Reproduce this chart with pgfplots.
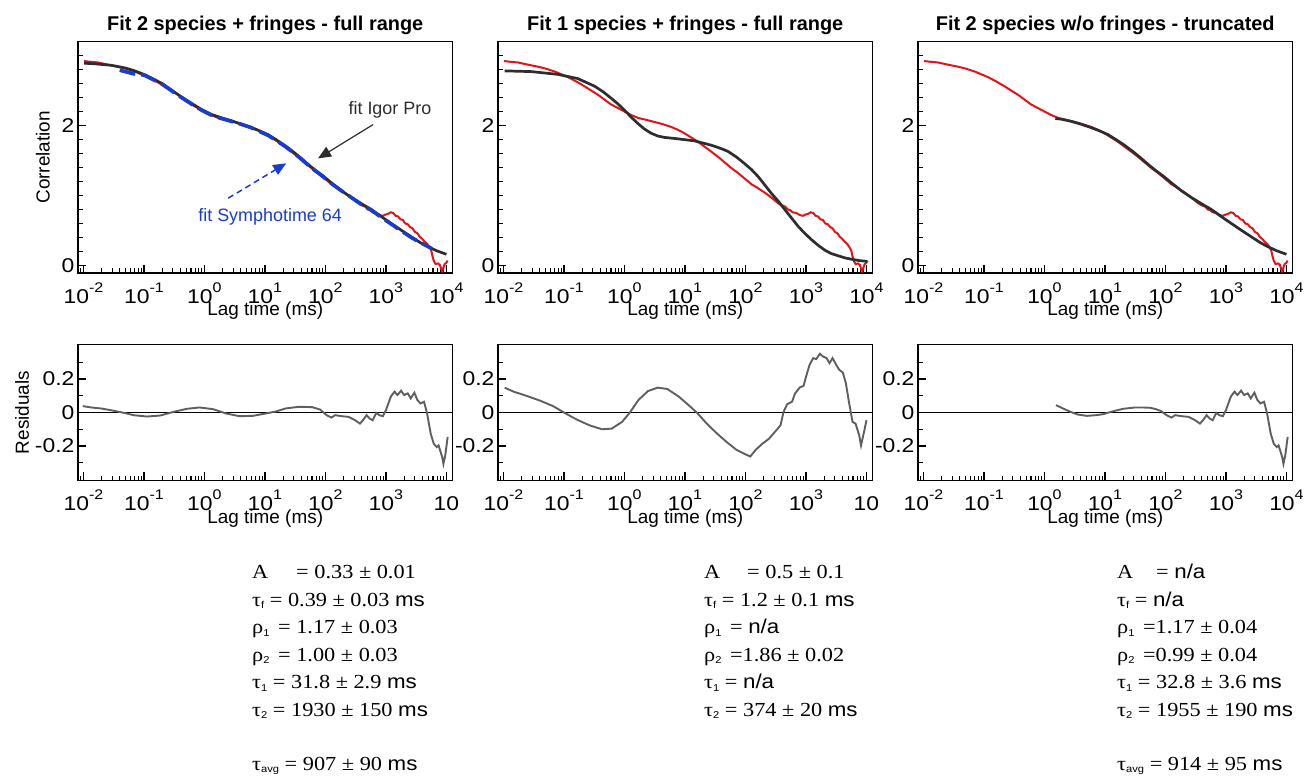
\documentclass[border=0pt]{standalone}
\usepackage{pgfplots}
\pgfplotsset{compat=1.18}
\usepackage{pgfplotstable}
\usepackage{fontspec}
\setmainfont{Liberation Sans}
\newfontfamily\tms[FakeStretch=1.12]{Liberation Serif}
\newfontfamily\hlv[FakeStretch=1.12]{Liberation Sans}
\newfontfamily\tickfont[FakeStretch=1.15]{Liberation Sans}
\usetikzlibrary{arrows.meta}

\definecolor{datared}{RGB}{225,20,25}
\definecolor{fitgray}{RGB}{45,45,45}
\definecolor{symblue}{RGB}{25,60,205}
\definecolor{resgray}{RGB}{95,95,95}

\newcommand{\tl}[1]{10\raisebox{11bp}{\fontsize{14}{14}\selectfont #1}}
\newcommand{\sub}[1]{\raisebox{-2.5bp}{\hlv\fontsize{10}{10}\selectfont #1}}
\newcommand{\blk}{\tms\fontsize{20}{20}\selectfont}
\newcommand{\ms}{{\hlv ms}}
\newcommand{\na}{{\hlv n/a}}

% log10(lag time / ms) versus correlation
\pgfplotstableread{
lx y
-1.99 2.92
-1.88 2.91
-1.76 2.90
-1.60 2.87
-1.43 2.84
-1.29 2.81
-1.15 2.77
-1.04 2.73
-0.93 2.69
-0.80 2.63
-0.66 2.56
-0.55 2.50
-0.44 2.44
-0.33 2.37
-0.22 2.30
-0.11 2.25
0.00 2.20
0.11 2.15
0.22 2.11
0.36 2.08
0.50 2.05
0.63 2.02
0.77 1.98
0.88 1.94
0.99 1.89
1.10 1.83
1.21 1.77
1.32 1.70
1.43 1.63
1.55 1.55
1.66 1.47
1.77 1.39
1.88 1.32
1.99 1.24
2.10 1.16
2.18 1.12
2.25 1.08
2.32 1.04
2.40 0.99
2.47 0.94
2.54 0.89
2.60 0.86
2.66 0.84
2.70 0.80
2.74 0.79
2.78 0.76
2.84 0.75
2.90 0.72
2.95 0.71
3.00 0.73
3.04 0.74
3.08 0.76
3.12 0.75
3.16 0.71
3.20 0.70
3.24 0.66
3.28 0.65
3.32 0.60
3.36 0.59
3.40 0.55
3.44 0.53
3.48 0.48
3.52 0.46
3.56 0.41
3.60 0.38
3.64 0.34
3.68 0.31
3.72 0.26
3.75 0.21
3.77 0.13
3.79 0.07
3.82 0.02
3.86 0.03
3.89 0.01
3.91 -0.04
3.93 -0.08
3.95 -0.03
3.97 0.02
4.00 0.04
4.02 0.07
}\reddata

\pgfplotstableread{
lx y
-1.99 2.89
-1.80 2.88
-1.54 2.86
-1.30 2.82
-1.15 2.78
-1.00 2.73
-0.88 2.68
-0.70 2.60
-0.55 2.51
-0.40 2.42
-0.22 2.32
-0.05 2.23
0.11 2.16
0.28 2.11
0.44 2.07
0.60 2.02
0.77 1.97
0.92 1.92
1.05 1.87
1.18 1.80
1.32 1.72
1.46 1.63
1.60 1.53
1.72 1.44
1.82 1.37
1.96 1.28
2.10 1.18
2.26 1.07
2.43 0.97
2.60 0.88
2.76 0.80
2.92 0.70
3.09 0.60
3.26 0.50
3.42 0.41
3.56 0.33
3.69 0.27
3.84 0.21
4.00 0.16
}\fitA

\pgfplotstableread{
lx y
-1.40 2.79
-1.18 2.74
-1.00 2.72
-0.88 2.67
-0.70 2.59
-0.55 2.50
-0.40 2.41
-0.22 2.31
-0.05 2.22
0.11 2.15
0.28 2.10
0.44 2.06
0.60 2.02
0.77 1.97
0.92 1.91
1.05 1.86
1.18 1.79
1.32 1.71
1.46 1.62
1.60 1.52
1.72 1.43
1.82 1.36
1.96 1.27
2.10 1.17
2.26 1.07
2.43 0.97
2.60 0.87
2.76 0.79
2.92 0.69
3.09 0.59
3.26 0.49
3.42 0.40
3.56 0.33
3.70 0.27
3.76 0.24
}\symfit

\pgfplotstableread{
lx y
-1.98 2.78
-1.54 2.77
-1.10 2.73
-0.77 2.67
-0.49 2.56
-0.35 2.48
-0.22 2.39
-0.11 2.31
0.00 2.22
0.11 2.12
0.22 2.03
0.33 1.95
0.44 1.89
0.55 1.85
0.66 1.83
0.88 1.81
1.16 1.78
1.43 1.72
1.60 1.67
1.71 1.63
1.85 1.55
1.98 1.46
2.10 1.37
2.21 1.27
2.32 1.15
2.43 1.03
2.54 0.92
2.65 0.80
2.76 0.68
2.87 0.56
2.98 0.46
3.09 0.37
3.20 0.29
3.31 0.22
3.42 0.17
3.53 0.14
3.64 0.11
3.75 0.09
3.88 0.07
4.01 0.06
}\fitB

\pgfplotstableread{
lx y
0.18 2.10
0.28 2.09
0.44 2.06
0.60 2.02
0.77 1.97
0.92 1.92
1.05 1.87
1.18 1.80
1.32 1.72
1.46 1.63
1.60 1.53
1.72 1.44
1.82 1.37
1.96 1.28
2.10 1.18
2.26 1.07
2.43 0.97
2.60 0.88
2.76 0.80
2.92 0.70
3.09 0.60
3.26 0.50
3.42 0.41
3.56 0.33
3.69 0.27
3.84 0.21
4.00 0.16
}\fitC

\pgfplotstableread{
lx y
-2.01 0.038
-1.87 0.030
-1.71 0.024
-1.55 0.014
-1.33 -0.002
-1.17 -0.016
-0.95 -0.024
-0.73 -0.018
-0.51 0.004
-0.29 0.022
-0.08 0.030
0.14 0.020
0.36 -0.006
0.58 -0.022
0.80 -0.020
1.01 -0.006
1.18 0.006
1.34 0.024
1.56 0.034
1.78 0.032
1.91 0.018
2.02 -0.016
2.10 -0.030
2.16 -0.016
2.27 -0.022
2.38 -0.026
2.49 -0.046
2.57 -0.066
2.62 -0.046
2.68 -0.016
2.73 -0.036
2.78 -0.046
2.84 -0.002
2.89 -0.016
2.95 -0.022
3.00 0.014
3.08 0.094
3.14 0.124
3.19 0.104
3.25 0.130
3.30 0.104
3.36 0.114
3.41 0.084
3.47 0.118
3.52 0.074
3.57 0.054
3.63 0.064
3.68 -0.006
3.74 -0.126
3.79 -0.186
3.84 -0.206
3.87 -0.196
3.93 -0.266
3.95 -0.306
3.98 -0.256
4.02 -0.146
}\resA

\pgfplotstableread{
lx y
-1.98 0.148
-1.83 0.124
-1.61 0.098
-1.39 0.070
-1.18 0.038
-0.99 -0.002
-0.80 -0.040
-0.58 -0.076
-0.37 -0.100
-0.21 -0.096
-0.04 -0.056
0.09 0.000
0.23 0.074
0.39 0.128
0.55 0.148
0.71 0.140
0.90 0.094
1.06 0.044
1.20 -0.002
1.36 -0.066
1.52 -0.122
1.69 -0.176
1.85 -0.222
1.98 -0.246
2.08 -0.262
2.17 -0.222
2.28 -0.186
2.39 -0.156
2.50 -0.110
2.58 -0.076
2.63 0.004
2.69 0.050
2.77 0.064
2.82 0.114
2.90 0.150
2.96 0.158
3.01 0.224
3.06 0.284
3.12 0.324
3.17 0.318
3.23 0.350
3.28 0.334
3.34 0.324
3.39 0.294
3.44 0.324
3.50 0.284
3.55 0.254
3.61 0.238
3.66 0.174
3.71 0.064
3.77 -0.056
3.82 -0.066
3.88 -0.136
3.91 -0.196
3.96 -0.116
4.00 -0.046
}\resB

\pgfplotstableread{
lx y
0.19 0.044
0.30 0.025
0.43 0.004
0.55 -0.012
0.70 -0.020
0.85 -0.016
0.97 -0.010
1.10 0.004
1.30 0.022
1.50 0.030
1.62 0.030
1.75 0.028
1.84 0.020
1.92 0.010
2.02 -0.016
2.10 -0.030
2.16 -0.016
2.27 -0.022
2.38 -0.026
2.49 -0.046
2.57 -0.066
2.62 -0.046
2.68 -0.016
2.73 -0.036
2.78 -0.046
2.84 -0.002
2.89 -0.016
2.95 -0.022
3.00 0.014
3.08 0.094
3.14 0.124
3.19 0.104
3.25 0.130
3.30 0.104
3.36 0.114
3.41 0.084
3.47 0.118
3.52 0.074
3.57 0.054
3.63 0.064
3.68 -0.006
3.74 -0.126
3.79 -0.186
3.84 -0.206
3.87 -0.196
3.93 -0.266
3.95 -0.306
3.98 -0.256
4.02 -0.146
}\resC

\pgfplotsset{
 panel/.style={
  scale only axis, width=374.5bp,
  xmin=-2.09, xmax=4.10,
  axis line style={line width=1.8bp, black},
  tick pos=left, tick align=inside,
  major tick length=8bp, minor tick length=4.5bp,
  every major tick/.append style={line width=1.3bp, black},
  every minor tick/.append style={line width=1.1bp, black},
  xtick={-2,-1,0,1,2,3,4},
  minor xtick={-2.046,
   -1.699,-1.523,-1.398,-1.301,-1.222,-1.155,-1.097,-1.046,
   -0.699,-0.523,-0.398,-0.301,-0.222,-0.155,-0.097,-0.046,
   0.301,0.477,0.602,0.699,0.778,0.845,0.903,0.954,
   1.301,1.477,1.602,1.699,1.778,1.845,1.903,1.954,
   2.301,2.477,2.602,2.699,2.778,2.845,2.903,2.954,
   3.301,3.477,3.602,3.699,3.778,3.845,3.903,3.954},
  tick label style={font=\tickfont\fontsize{20}{20}\selectfont},
  xlabel={Lag time (ms)},
  every axis x label/.style={at={(axis description cs:0.5,0)}, anchor=base, yshift=-43bp, font=\fontsize{19}{19}\selectfont},
  every axis y label/.style={at={(axis description cs:-0.094,0.5)}, rotate=90, anchor=center, font=\fontsize{19}{19}\selectfont},
  every axis title/.style={at={(axis description cs:0.5,1)}, anchor=base, yshift=11bp, font=\bfseries\fontsize{20}{20}\selectfont},
 },
 toppanel/.style={panel, height=231.5bp,
  ymin=-0.107, ymax=3.2, ytick={0,2}, yticklabels={0,2},
  minor ytick={0.2,0.4,0.6,0.8,1.0,1.2,1.4,1.6,1.8,2.2,2.4,2.6,2.8,3.0},
  xticklabels={\tl{-2},\tl{-1},\tl{0},\tl{1},\tl{2},\tl{3},\tl{4}},
  xticklabel style={anchor=base, yshift=-31bp}},
 respanel/.style={panel, height=136bp,
  ymin=-0.405, ymax=0.405, ytick={-0.2,0,0.2}, yticklabels={-0.2,0,0.2},
  minor ytick={-0.3,-0.1,0.1,0.3},
  xticklabel style={anchor=base, yshift=-30bp}},
}

\begin{document}
\begin{tikzpicture}
\path[use as bounding box] (0,0) rectangle (1305bp,778bp);

% ---------- top row ----------
\begin{axis}[toppanel, at={(78bp,505bp)}, anchor=south west,
  title={Fit 2 species + fringes - full range}, ylabel={Correlation}]
\addplot[datared, line width=2bp] table[x=lx,y=y] {\reddata};
\addplot[fitgray, line width=2.7bp] table[x=lx,y=y] {\fitA};
\addplot[symblue, line width=3.6bp, dash pattern=on 16bp off 6bp] table[x=lx,y=y] {\symfit};
\node[text=fitgray, font=\fontsize{18}{18}\selectfont] at (rel axis cs:0.833,0.706) {fit Igor Pro};
\draw[fitgray, line width=1.2bp, -{Triangle[length=13bp,width=11bp]}] (rel axis cs:0.788,0.641) -- (rel axis cs:0.641,0.495);
\node[text=symblue, font=\fontsize{18}{18}\selectfont] at (rel axis cs:0.513,0.244) {fit Symphotime 64};
\draw[symblue, line width=1.5bp, dash pattern=on 6bp off 4bp, -{Triangle[length=13bp,width=11bp]}] (rel axis cs:0.401,0.323) -- (rel axis cs:0.556,0.474);
\end{axis}

\begin{axis}[toppanel, at={(498bp,505bp)}, anchor=south west,
  title={Fit 1 species + fringes - full range}]
\addplot[datared, line width=2bp] table[x=lx,y=y] {\reddata};
\addplot[fitgray, line width=2.7bp] table[x=lx,y=y] {\fitB};
\end{axis}

\begin{axis}[toppanel, at={(918bp,505bp)}, anchor=south west,
  title={Fit 2 species w/o fringes - truncated}]
\addplot[datared, line width=2bp] table[x=lx,y=y] {\reddata};
\addplot[fitgray, line width=2.7bp] table[x=lx,y=y] {\fitC};
\end{axis}

% ---------- residual row ----------
\begin{axis}[respanel, at={(78bp,297.5bp)}, anchor=south west,
  xticklabels={\tl{-2},\tl{-1},\tl{0},\tl{1},\tl{2},\tl{3},10},
  ylabel={Residuals}, ylabel style={at={(axis description cs:-0.149,0.5)}}]
\addplot[black, line width=1.8bp] coordinates {(-2.09,0) (4.10,0)};
\addplot[resgray, line width=1.9bp] table[x=lx,y=y] {\resA};
\end{axis}

\begin{axis}[respanel, at={(498bp,297.5bp)}, anchor=south west,
  xticklabels={\tl{-2},\tl{-1},\tl{0},\tl{1},\tl{2},\tl{3},10}]
\addplot[black, line width=1.8bp] coordinates {(-2.09,0) (4.10,0)};
\addplot[resgray, line width=1.9bp] table[x=lx,y=y] {\resB};
\end{axis}

\begin{axis}[respanel, at={(918bp,297.5bp)}, anchor=south west,
  xticklabels={\tl{-2},\tl{-1},\tl{0},\tl{1},\tl{2},\tl{3},\tl{4}}]
\addplot[black, line width=1.8bp] coordinates {(-2.09,0) (4.10,0)};
\addplot[resgray, line width=1.9bp] table[x=lx,y=y] {\resC};
\end{axis}

% ---------- parameter blocks ----------
\begin{scope}[every node/.style={anchor=base west, inner sep=0pt, font=\blk}]
% block 1
\node at (252bp,199bp) {A};
\node at (296bp,199bp) {= 0.33 ± 0.01};
\node at (252bp,171.5bp) {τ\sub{f} = 0.39 ± 0.03 \ms};
\node at (252bp,144bp) {ρ\sub{1}\hspace{3bp} = 1.17 ± 0.03};
\node at (252bp,116.5bp) {ρ\sub{2}\hspace{3bp} = 1.00 ± 0.03};
\node at (252bp,89bp) {τ\sub{1} = 31.8 ± 2.9 \ms};
\node at (252bp,61.5bp) {τ\sub{2} = 1930 ± 150 \ms};
\node at (252bp,8bp) {τ\sub{avg} = 907 ± 90 \ms};
% block 2
\node at (704bp,199bp) {A};
\node at (747bp,199bp) {= 0.5 ± 0.1};
\node at (704bp,171.5bp) {τ\sub{f} = 1.2 ± 0.1 \ms};
\node at (704bp,144bp) {ρ\sub{1}\hspace{3bp} = \na};
\node at (704bp,116.5bp) {ρ\sub{2}\hspace{3bp} =1.86 ± 0.02};
\node at (704bp,89bp) {τ\sub{1} = \na};
\node at (704bp,61.5bp) {τ\sub{2} = 374 ± 20 \ms};
% block 3
\node at (1117bp,199bp) {A};
\node at (1156bp,199bp) {= \na};
\node at (1117bp,171.5bp) {τ\sub{f} = \na};
\node at (1117bp,144bp) {ρ\sub{1}\hspace{3bp} =1.17 ± 0.04};
\node at (1117bp,116.5bp) {ρ\sub{2}\hspace{3bp} =0.99 ± 0.04};
\node at (1117bp,89bp) {τ\sub{1} = 32.8 ± 3.6 \ms};
\node at (1117bp,61.5bp) {τ\sub{2} = 1955 ± 190 \ms};
\node at (1117bp,8bp) {τ\sub{avg} = 914 ± 95 \ms};
\end{scope}
\end{tikzpicture}
\end{document}
